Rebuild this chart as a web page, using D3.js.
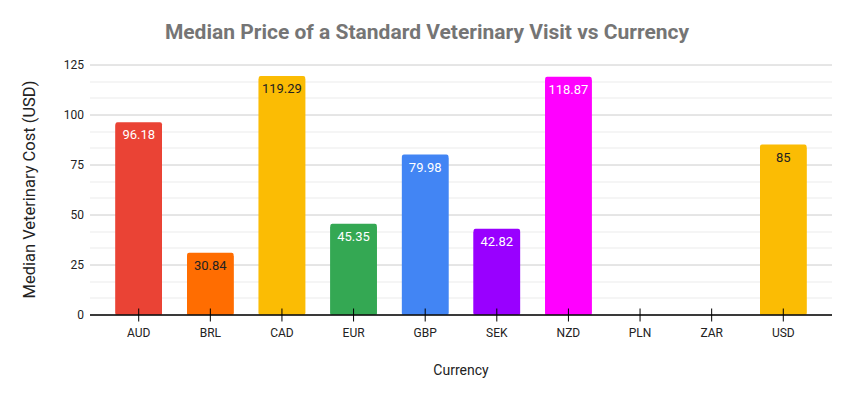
<!DOCTYPE html>
<html>
<head>
<meta charset="utf-8">
<script src="https://cdn.jsdelivr.net/npm/d3@7"></script>
<style>
  body { margin: 0; background: #fff; }
  text { font-family: Roboto, "Noto Sans", Arial, sans-serif; }
</style>
</head>
<body>
<div id="chart"></div>
<script>
var currencies = ["AUD", "BRL", "CAD", "EUR", "GBP", "SEK", "NZD", "PLN", "ZAR", "USD"];
var costs = [96.18, 30.84, 119.29, 45.35, 79.98, 42.82, 118.87, null, null, 85];
var barColors = ["#ea4335", "#ff6d01", "#fbbc04", "#34a853", "#4285f4", "#9900ff", "#ff00ff", "#cccccc", "#cccccc", "#fbbc04"];
var labelColors = ["#fff", "#222", "#222", "#fff", "#fff", "#fff", "#fff", "#222", "#222", "#222"];
var yTicks = [0, 25, 50, 75, 100, 125];

var svgWidth = 852;
var svgHeight = 398;

var margin = {
  top: 64.5,
  right: 20,
  bottom: 83.5,
  left: 90
};

var width = svgWidth - margin.left - margin.right;
var height = svgHeight - margin.top - margin.bottom;

var data = currencies.map(function(c, i) {
  return { currency: c, cost: costs[i], color: barColors[i], labelColor: labelColors[i] };
});

var svg = d3.select("#chart")
  .append("svg")
  .attr("width", svgWidth)
  .attr("height", svgHeight);

var chartGroup = svg.append("g")
  .attr("transform", `translate(${margin.left}, ${margin.top})`);

var xBandScale = d3.scaleBand()
  .domain(currencies)
  .range([12.9, 729.1])
  .paddingInner(0.35)
  .paddingOuter(0.175);

var yLinearScale = d3.scaleLinear()
  .domain([0, 125])
  .range([height, 0]);

// minor gridlines
chartGroup.append("g")
  .selectAll("line")
  .data(d3.range(0, 125, 25 / 3).filter(function(v) { return Math.round(v * 3) % 75 !== 0; }))
  .enter()
  .append("line")
  .attr("x1", 0)
  .attr("x2", width)
  .attr("y1", d => Math.round(yLinearScale(d)) + 0.5)
  .attr("y2", d => Math.round(yLinearScale(d)) + 0.5)
  .attr("stroke", "#ebebeb");

// major gridlines + labels
var leftAxis = d3.axisLeft(yLinearScale)
  .tickValues(yTicks)
  .tickSize(-width)
  .tickPadding(6);

var yAxisGroup = chartGroup.append("g")
  .call(leftAxis);
yAxisGroup.select(".domain").remove();
yAxisGroup.selectAll(".tick line")
  .attr("stroke", "#cccccc");
yAxisGroup.selectAll(".tick text")
  .attr("fill", "#222")
  .style("font-size", "12px")
  .attr("x", -6);

// bars
chartGroup.selectAll(".bar")
  .data(data.filter(d => d.cost != null))
  .enter()
  .append("rect")
  .attr("class", "bar")
  .attr("x", d => xBandScale(d.currency))
  .attr("y", d => yLinearScale(d.cost))
  .attr("width", xBandScale.bandwidth())
  .attr("height", d => height - yLinearScale(d.cost))
  .attr("rx", 2)
  .attr("fill", d => d.color);

// square off the bottom corners
chartGroup.selectAll(".barBase")
  .data(data.filter(d => d.cost != null))
  .enter()
  .append("rect")
  .attr("x", d => xBandScale(d.currency))
  .attr("y", d => yLinearScale(d.cost) + 3)
  .attr("width", xBandScale.bandwidth())
  .attr("height", d => height - yLinearScale(d.cost) - 3)
  .attr("fill", d => d.color);

chartGroup.selectAll(".barLabel")
  .data(data.filter(d => d.cost != null))
  .enter()
  .append("text")
  .attr("class", "barLabel")
  .attr("x", d => xBandScale(d.currency) + xBandScale.bandwidth() / 2)
  .attr("y", d => yLinearScale(d.cost) + 17)
  .attr("text-anchor", "middle")
  .attr("fill", d => d.labelColor)
  .style("font-size", "13px")
  .text(d => d.cost);

// x axis
var bottomAxis = d3.axisBottom(xBandScale)
  .tickSizeInner(0)
  .tickSizeOuter(0)
  .tickPadding(14);

var xAxisGroup = chartGroup.append("g")
  .attr("transform", `translate(0, ${height})`)
  .call(bottomAxis);
xAxisGroup.select(".domain")
  .attr("d", `M0,0.5H${width}`)
  .attr("stroke", "#000")
  .attr("stroke-width", 1.3);
xAxisGroup.selectAll(".tick")
  .append("line")
  .attr("y1", -6)
  .attr("y2", 7)
  .attr("stroke", "#000");
xAxisGroup.selectAll(".tick text")
  .attr("fill", "#222")
  .style("font-size", "12px");

// title
svg.append("text")
  .attr("x", 427)
  .attr("y", 39)
  .attr("text-anchor", "middle")
  .attr("fill", "#757575")
  .style("font-size", "21px")
  .style("font-weight", "bold")
  .text("Median Price of a Standard Veterinary Visit vs Currency");

chartGroup.append("text")
  .attr("transform", "rotate(-90)")
  .attr("y", -55)
  .attr("x", 0 - (height / 2))
  .attr("text-anchor", "middle")
  .attr("fill", "#222")
  .style("font-size", "16.5px")
  .text("Median Veterinary Cost (USD)");

svg.append("text")
  .attr("x", 461)
  .attr("y", 375)
  .attr("text-anchor", "middle")
  .attr("fill", "#222")
  .style("font-size", "14px")
  .text("Currency");
</script>
</body>
</html>
